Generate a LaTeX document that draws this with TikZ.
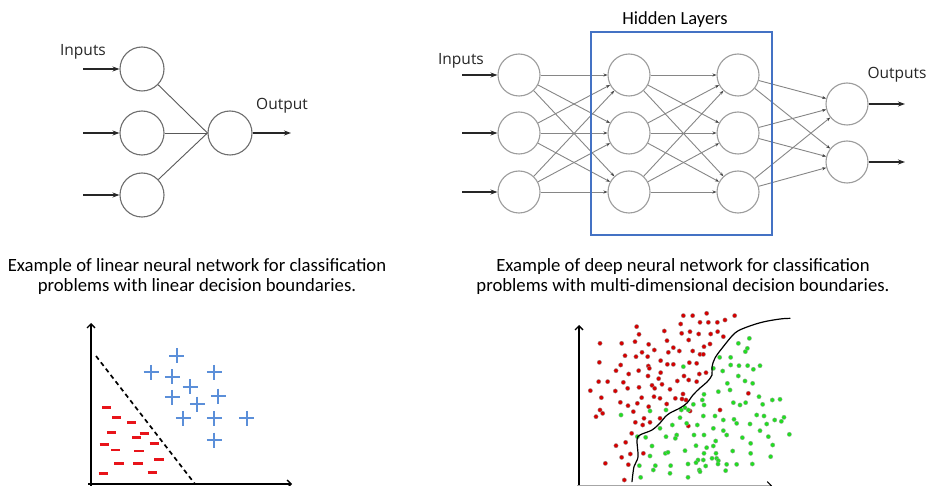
\documentclass[tikz,border=0pt]{standalone}
\usepackage{fontspec}
\setmainfont{Carlito}
\newfontfamily\lblfont{Open Sans}
\usetikzlibrary{arrows.meta}
\definecolor{boxblue}{HTML}{4472C4}
\definecolor{plusblue}{HTML}{5B8FD9}
\definecolor{minusred}{HTML}{E8141A}
\definecolor{dotred}{HTML}{D60000}
\definecolor{dotgreen}{HTML}{22DD22}
\definecolor{ringdark}{HTML}{6E6E6E}
\definecolor{ringlight}{HTML}{9C9C9C}
\definecolor{wiregray}{HTML}{868686}

\begin{document}
\begin{tikzpicture}[x=1pt,y=-1pt,
  neuronL/.style={circle, draw=ringdark, line width=1.1pt, minimum size=44pt, inner sep=0pt},
  neuronR/.style={circle, draw=ringlight, line width=1.1pt, minimum size=42pt, inner sep=0pt},
  feed/.style={line width=1.3pt, draw=black!85, -{Stealth[length=7pt,width=5pt]}},
  linkL/.style={line width=0.9pt, draw=black!65},
  wire/.style={line width=0.9pt, draw=wiregray, -{Stealth[length=4pt,width=3pt,color=black!75]}},
  lbl/.style={font=\lblfont\fontsize{15.5}{17}\selectfont, text=black!85},
  caption/.style={font=\fontsize{18.7}{20}\selectfont, align=center},
  plusmark/.style={draw=plusblue, line width=1.8pt},
  minusmark/.style={draw=minusred, line width=2.6pt},
  reddot/.style={fill=dotred, draw=black!40, line width=0.3pt},
  greendot/.style={fill=dotgreen, draw=black!35, line width=0.3pt},
  axis/.style={line width=1.4pt, -{Straight Barb[length=4pt,width=8pt]}}
]
\useasboundingbox (0,0) rectangle (929,486);
\fill[white] (0,0) rectangle (929,486);

% ---------- single-layer network ----------
\node[neuronL] (l1) at (142,69) {};
\node[neuronL] (l2) at (142,133) {};
\node[neuronL] (l3) at (142,195) {};
\node[neuronL] (lo) at (230,133) {};
\coordinate (lin1) at (83,69);
\coordinate (lin2) at (83,133);
\coordinate (lin3) at (83,195);
\coordinate (lout) at (291,133);
\foreach \k in {1,2,3} {
  \draw[feed] (lin\k) -- (l\k);
  \draw[linkL] (l\k) -- (lo.west);
}
\draw[feed] (lo) -- (lout);
\node[lbl] (linputs) at (83,52) {Inputs};
\node[lbl] (loutput) at (282,106) {Output};

% ---------- deep network ----------
\foreach \k/\yy in {1/75,2/133,3/192} {
  \node[neuronR] (i\k) at (519,\yy) {};
  \node[neuronR] (a\k) at (629,\yy) {};
  \node[neuronR] (b\k) at (738,\yy) {};
  \coordinate (rin\k) at (462,\yy);
}
\node[neuronR] (o1) at (847,104) {};
\node[neuronR] (o2) at (847,162) {};
\coordinate (rout1) at (905,104);
\coordinate (rout2) at (905,162);

\foreach \s in {1,2,3} {
  \foreach \t in {1,2,3} {
    \draw[wire] (i\s) -- (a\t);
    \draw[wire] (a\s) -- (b\t);
  }
  \draw[wire] (b\s) -- (o1);
  \draw[wire] (b\s) -- (o2);
  \draw[feed] (rin\s) -- (i\s);
}
\draw[feed] (o1) -- (rout1);
\draw[feed] (o2) -- (rout2);
\node[lbl] (rinputs) at (461,61) {Inputs};
\node[lbl] (routputs) at (897,75) {Outputs};

\node[draw=boxblue, line width=2.4pt, minimum width=181pt, minimum height=203pt, inner sep=0pt] (hidden) at (681.5,133.5) {};
\node[font=\fontsize{18.5}{20}\selectfont] (hlabel) at (675,20) {Hidden Layers};

% ---------- captions ----------
\node[caption] (capL) at (197,277) {Example of linear neural network for classification\\problems with linear decision boundaries.};
\node[caption] (capR) at (683,277) {Example of deep neural network for classification\\problems with multi-dimensional decision boundaries.};

% ---------- linear decision boundary plot ----------
\draw[axis] (91,490) -- (91,323);
\draw[axis] (88,484) -- (292,484);
\draw[line width=1.7pt, dash pattern=on 4.5pt off 3.5pt] (96,356) -- (195,484);
\foreach \x/\y in {350/137,273/187,337/200,463/187,390/230,337/262,475/258,412/282,370/325,463/325,560/325,463/390} {
  \draw[plusmark] ({60+\x/3-7.5},{310+\y/3}) -- ++(15,0);
  \draw[plusmark] ({60+\x/3},{310+\y/3-7.5}) -- ++(0,15);
}
\foreach \x/\y in {140/292,170/323,215/338,155/368,253/370,230/383,133/403,283/400,167/420,237/423,297/448,177/461,234/460,130/490,277/488} {
  \draw[minusmark] ({60+\x/3-4.6},{310+\y/3}) -- ++(9.2,0);
}

% ---------- nonlinear decision boundary plot ----------
\draw[axis] (579,490) -- (579,325);
\draw[line width=1.1pt, draw=black!35, -{Straight Barb[length=4pt,width=8pt,color=black]}] (577,485.6) -- (772,485.6);
\foreach \x/\y in {370/47,398/47,440/40,524/47,495/60,362/72,420/67,445/67,472/67,230/80,313/93,237/103,365/100,390/95,416/102,452/102,473/95,490/110,120/130,185/130,225/125,266/133,321/122,386/120,450/132,432/140,340/143,283/150,246/157,325/157,358/153,398/153,420/163,430/163,195/167,228/170,263/170,118/187,302/182,322/193,340/193,388/188,410/190,182/195,265/198,268/205,168/212,236/212,206/222,302/218,418/222,438/218,264/228,296/236,372/228,116/245,143/245,190/247,352/243,386/240,410/245,306/253,276/256,91/272,166/273,203/265,237/262,284/265,330/268,124/293,245/293,282/290,300/295,346/295,369/282,378/300,366/297,181/307,232/310,320/312,204/317,120/330,128/340,108/350,220/335,266/320,252/355,300/355,270/367,226/367,248/375,385/378,390/333,480/330,565/280,215/400,168/437,197/427,211/462,250/460,185/472,136/490,205/494,193/540} {
  \draw[reddot] ({560+\x/3},{300+\y/3}) circle[radius=2.2pt];
}
\foreach \x/\y in {568/115,535/130,562/145,556/155,479/172,512/172,370/200,460/205,488/213,512/195,537/197,563/197,580/208,600/197,535/228,555/243,578/250,502/250,475/275,510/270,432/283,427/300,400/313,375/323,432/315,520/308,540/315,557/308,597/290,637/300,660/298,608/313,270/333,318/330,364/330,385/330,183/345,360/353,430/348,465/348,490/360,522/358,590/345,612/348,672/352,644/360,664/364,300/385,337/375,380/370,412/375,460/385,490/392,530/370,570/372,620/372,232/410,257/412,318/410,350/405,346/415,402/405,432/405,500/405,547/413,600/392,625/410,688/403,467/423,572/430,276/438,408/437,440/443,460/438,518/453,638/435,316/460,324/457,375/452,432/460,468/460,572/460,270/468,456/475,470/475,475/482,414/480,430/480,632/470,238/497,286/497,332/497,384/492,408/488,437/498,474/492,500/493,530/493,577/492,280/510,330/520,418/510,420/515,497/512,242/532,384/532} {
  \draw[greendot] ({560+\x/3},{300+\y/3}) circle[radius=2.2pt];
}
\draw[line width=1.2pt, line cap=round] plot[smooth, tension=0.55] coordinates {
  ({560+216/3},{300+545/3}) ({560+222/3},{300+500/3}) ({560+234/3},{300+471/3})
  ({560+231/3},{300+420/3}) ({560+240/3},{300+405/3}) ({560+276/3},{300+390/3})
  ({560+300/3},{300+369/3}) ({560+315/3},{300+351/3}) ({560+330/3},{300+339/3})
  ({560+360/3},{300+324/3}) ({560+381/3},{300+309/3}) ({560+399/3},{300+285/3})
  ({560+420/3},{300+264/3}) ({560+441/3},{300+246/3}) ({560+456/3},{300+225/3})
  ({560+456/3},{300+201/3}) ({560+465/3},{300+174/3}) ({560+489/3},{300+141/3})
  ({560+525/3},{300+99/3}) ({560+561/3},{300+81/3}) ({560+609/3},{300+66/3})
  ({560+660/3},{300+57/3}) ({560+690/3},{300+55/3})};
\end{tikzpicture}
\end{document}
